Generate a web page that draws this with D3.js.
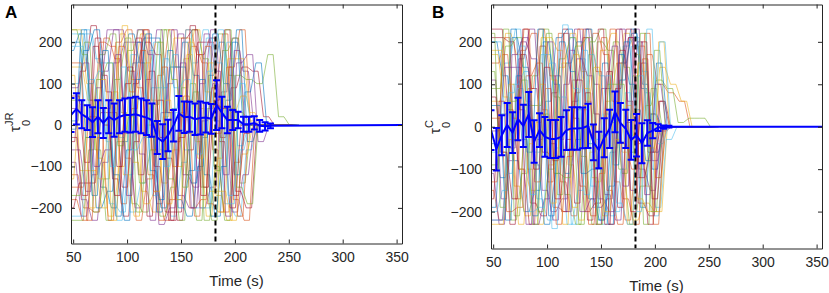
<!DOCTYPE html>
<html>
<head>
<meta charset="utf-8">
<script src="https://cdn.jsdelivr.net/npm/d3@7"></script>
<style>
  body { margin: 0; background: #fff; }
  svg { display: block; font-family: "Liberation Sans", Arial, sans-serif; }
</style>
</head>
<body>
<svg id="chart" width="829" height="293"></svg>
<script>
// ── data ─────────────────────────────────────────────────────
const xTicks = [50, 100, 150, 200, 250, 300, 350];
const yTicks = [-200, -100, 0, 100, 200];
const eventTime = 182;

// time grid of the individual runs (s), plus each run's own lag (s)
const lineT = [48, 58, 68, 78, 88, 98, 108, 118, 128, 138, 148, 158, 168, 178, 188, 198, 208, 218, 228, 238, 248];
const lagA = [0, 4, 7, 2, 9, 5, 1, 6, 3, 8, 2, 5, 7, 0, 4, 9, 1, 6, 3, 8, 5, 2, 7, 0, 4, 6, 9, 3];
const lagB = [3, 0, 6, 8, 1, 5, 9, 2, 7, 4, 0, 6, 3, 8, 1, 5, 9, 2, 4, 7, 0, 6, 3, 8, 5, 1, 9, 2];

const linesA = [
  [180, 220, 60, -150, -200, -40, 150, 210, 210, 30, -180, -220, -100, 120, 200, 40, 0, 0, 0, 0, 0],
  [-120, -200, -210, 40, 200, 230, 90, -120, -230, -180, 20, 190, 150, -60, -210, -90, 0, 0, 0, 0, 0],
  [230, 100, -80, -220, -100, 130, 220, 60, -140, -60, 160, 230, 80, -170, -230, 30, 10, 0, 0, 0, 0],
  [40, -180, -230, -90, 150, 200, 200, -30, -190, 100, 220, -20, -200, -150, 80, 210, 130, 0, 0, 0, 0],
  [-230, -60, 170, 220, 30, -190, -210, 50, 230, 140, -120, -230, 40, 220, 120, -140, 0, 0, 0, 0, 0],
  [100, 230, 160, -40, -230, -120, 60, 180, -60, -220, -90, 150, 230, 10, -190, -220, -60, 0, 0, 0, 0],
  [-40, 130, 240, 120, -130, -220, -40, 200, 170, -80, -230, -60, 170, 210, -30, 90, 140, 130, 20, 0, 0],
  [200, -30, -200, -160, 60, 220, 150, -110, -200, 40, 200, 120, -120, -220, 60, 230, -40, 0, 0, 0, 0],
  [-180, -230, 20, 210, 160, -80, -230, -130, 120, 230, 30, -200, -180, 90, 220, -180, -230, 0, 0, 0, 0],
  [140, 60, -130, 60, 220, 110, -160, -210, 20, 210, 210, -40, -220, -80, 160, 160, 30, 0, 0, 0, 0],
  [-90, -220, -120, 130, 230, -20, -200, 110, 230, 30, -170, -200, 100, 230, 20, -210, -120, 0, 0, 0, 0],
  [60, 200, -60, -230, -40, 180, 230, 10, -220, -150, 90, 230, 160, -100, -230, 120, 110, 100, 170, 20, 0],
  [220, 220, 150, 150, -30, -210, -140, 90, 90, 170, -60, -200, -200, 40, 200, -50, 0, 0, 0, 0, 0],
  [-200, -140, -140, 30, 30, -150, 100, 230, -100, -210, -210, 60, 200, 200, -40, -200, 0, 0, 0, 0, 0],
  [10, 180, 230, -20, -220, -60, 200, -30, -180, 140, 140, -140, -30, 220, 100, -120, 80, 150, 0, 0, 0],
  [-150, 20, 200, 190, -190, 40, 230, -160, -230, -40, 230, 170, -190, -210, 140, 230, 0, 0, 0, 0, 0],
  [120, -110, -110, -200, 80, -120, -220, 150, 200, -190, -100, 200, 40, -160, -160, -230, -70, 0, 0, 0, 0],
  [-60, -160, 90, 230, 230, 130, -70, -230, 30, 230, -120, -150, 220, 130, -220, 150, 170, -40, 0, 0, 0],
  [230, 170, -210, -130, 110, 210, -210, 0, 200, -130, -230, 100, -150, -230, 180, 210, 0, 0, 0, 0, 0],
  [-220, 100, 130, -190, -210, 170, 60, -170, 160, 90, 110, -110, 210, 150, -170, -60, 0, 0, 0, 0, 0],
  [70, -90, 210, 80, -100, 140, -120, 130, -30, -230, 210, 230, -150, 60, 230, -160, -200, 0, 0, 0, 0],
  [-10, 230, -170, 180, -120, -230, 110, 220, -210, 180, -200, -110, 110, -220, -100, 200, 0, 0, 0, 0, 0],
  [150, -230, -30, -230, 190, 80, 180, -60, 140, -100, 70, -220, 190, -20, 140, -220, 0, 0, 0, 0, 0],
  [-130, 50, -200, 110, -230, 240, -90, -190, -160, 60, -180, 170, -80, 150, -210, 30, 70, 0, 0, 0, 0],
  [90, 150, -100, -60, 170, -170, 230, 170, -240, -200, 150, -200, 10, 100, -120, 180, 0, 0, 0, 0, 0],
  [-170, -30, 110, 150, -50, 20, -140, -60, 230, 110, -150, 80, -230, -110, 230, -150, -190, 0, 0, 0, 0],
  [190, 110, 40, -100, 140, -60, -30, 200, -100, 30, 230, -70, 130, 230, -190, 100, 0, 0, 0, 0, 0],
  [-30, -170, 190, 0, -170, 100, 210, -220, 60, -230, -30, 240, -170, 50, 40, -170, -20, 0, 0, 0, 0]
];

const linesB = [
  [200, 120, -80, -200, -150, 60, 210, 230, 40, -170, -220, -60, 150, 220, 100, -60, 0, 0, 0, 0, 0],
  [-150, -220, -30, 180, 220, 40, -190, -200, 80, 230, 130, -150, -230, -20, 190, 30, 0, 0, 0, 0, 0],
  [60, 220, 170, -100, -230, -90, 140, 220, 130, -120, -210, 30, 220, 170, -140, -200, 0, 0, 0, 0, 0],
  [-220, -80, 160, 230, 30, -200, -170, 60, 230, 100, -160, -220, 10, 200, -60, 0, 0, 0, 0, 0, 0],
  [130, -60, -220, -110, 120, 230, 70, -160, -230, 0, 200, 180, -100, -230, -140, 90, 0, 0, 0, 0, 0],
  [-60, 150, 230, 60, -170, -220, 20, 210, 160, -140, -230, -50, 190, 210, 80, -190, -30, 0, 0, 0, 0],
  [210, 200, 40, -180, -210, 80, 230, 20, -200, -180, 90, 230, 60, -180, -210, 60, 0, 0, 0, 0, 0],
  [-190, 30, 210, 140, -90, -230, -110, 150, 200, -40, -220, -140, 110, 230, 90, -100, 0, 0, 0, 0, 0],
  [20, -200, -190, 90, 230, 120, -130, -210, 40, 220, 170, -130, -220, -40, 170, 100, 80, 60, 0, 0, 0],
  [170, 70, -140, -210, 10, 210, 180, -90, -220, -60, 180, 220, -60, -220, -180, -200, 0, 0, 0, 0, 0],
  [-110, -230, -50, 200, 160, -150, -220, 100, 230, 60, -190, -170, 150, 210, -100, -150, -10, 0, 0, 0, 0],
  [90, 190, 210, 20, -200, -100, 160, 210, -70, -230, -20, 200, 140, -120, 50, 110, 90, 10, 20, 20, 0],
  [-200, -150, 100, 130, -60, 170, -50, -230, -150, 170, 120, -210, -100, 190, 130, -210, 0, 0, 0, 0, 0],
  [230, 40, -100, -230, 190, -40, -200, 110, 210, 30, -230, 90, 230, -30, -230, 60, 0, 0, 0, 0, 0],
  [-40, -120, 230, -30, -210, 200, 100, -110, -30, 230, -100, -230, 170, 100, -190, 30, 0, 0, 0, 0, 0],
  [150, 210, -170, 120, 150, -130, 220, -10, -140, -210, 210, 60, -170, -230, 220, -120, 0, 0, 0, 0, 0],
  [-230, 100, -100, -150, 210, 110, -230, 170, 90, -130, 60, 150, -230, 150, -50, 140, 100, 60, 0, 0, 0],
  [110, -170, 170, 210, -230, -170, 120, -200, 160, 120, -170, -200, 230, -150, 150, -80, 0, 0, 0, 0, 0],
  [-90, 230, -210, 50, 50, 220, -160, 40, -230, 200, 230, 10, -110, 120, -230, 180, 0, 0, 0, 0, 0],
  [200, -110, 90, -200, -190, 150, 70, -230, 180, -190, 30, -200, 80, -200, 230, -40, 0, 0, 0, 0, 0],
  [-170, 60, -230, 170, 90, -60, -80, 220, -180, 80, -230, 130, -190, 210, -120, -60, 0, 0, 0, 0, 0],
  [50, -220, 120, -60, 230, -210, 200, 130, -110, -100, 150, -90, 200, 40, -80, 150, 0, 0, 0, 0, 0],
  [-130, 170, 20, 230, -130, 90, -230, -70, 230, -230, -110, 230, -40, -100, 160, -230, 0, 0, 0, 0, 0],
  [180, -30, -230, -40, 100, -180, 150, -190, 50, 140, -200, -30, 50, -170, -200, 200, 0, 0, 0, 0, 0],
  [-10, 140, 140, -230, -30, 200, -30, 180, -200, -170, 90, 190, -140, 230, -160, 100, 0, 0, 0, 0, 0],
  [220, -190, 60, 110, -230, 30, -110, -120, 190, 210, -230, 100, 100, -60, 220, -200, 0, 0, 0, 0, 0],
  [-220, 80, 190, -160, 170, -240, 240, 90, -160, -30, 120, -180, -230, 120, -10, 200, 0, 0, 0, 0, 0],
  [70, -60, -170, 230, -100, 140, -170, -30, 110, -220, 230, -230, 180, -200, 200, -170, 0, 0, 0, 0, 0]
];

// mean and error of panel A
const meanTA = [48, 53, 58, 63, 68, 73, 78, 83, 88, 93, 98, 103, 108, 113, 118, 123, 128, 133, 138, 143,
  148, 153, 158, 163, 168, 173, 178, 183, 188, 193, 198, 203, 208, 213, 218, 223, 228, 233, 355];
const meanA = [24, 39, 26, 18, 7, 20, 5, 20, 12, 20, 24, 24, 26, 22, 18, 12, -30, -40, -25, -2,
  28, 19, 20, 14, 17, 18, 15, 48, 30, 12, 12, 12, 2, 2, 5, -2, -3, -2, 0];
const errA = [41, 38, 34, 30, 36, 40, 36, 40, 40, 40, 40, 42, 42, 42, 42, 40, 40, 42, 38, 38,
  42, 38, 36, 38, 40, 36, 36, 60, 38, 32, 24, 20, 18, 18, 16, 14, 10, 6, 0];

// mean and error of panel B
const meanTB = [48, 53, 58, 63, 68, 73, 78, 83, 88, 93, 98, 103, 108, 113, 118, 123, 128, 133, 138, 143,
  148, 153, 158, 163, 168, 173, 178, 183, 188, 193, 198, 203, 208, 213, 355];
const meanB = [-8, -53, -20, 4, -14, 18, 2, 29, -35, -8, -24, -29, -29, -24, -8, -4, -4, -3, 2, -37,
  -55, -26, -5, 35, 9, -5, -31, -20, -39, -15, -9, -2, -1, 0, 0];
const errB = [47, 50, 47, 52, 48, 50, 50, 53, 50, 40, 47, 45, 45, 47, 47, 50, 50, 48, 52, 42,
  43, 46, 45, 48, 47, 45, 47, 50, 47, 30, 18, 8, 4, 2, 0];

const COLORS = ['#0072BD', '#D95319', '#EDB120', '#7E2F8E', '#77AC30', '#4DBEEE', '#A2142F'];
const AXIS_COLOR = '#262626';
const HOLD = 2.5;   // each sample is held +-2.5 s, then ramps to the next

const svg = d3.select('#chart');

function drawPanel(p) {
  const x = d3.scaleLinear().domain([48, 355]).range([p.left, p.right]);
  const y = d3.scaleLinear().domain(p.yDomain).range([p.bottom, p.top]);
  const g = svg.append('g');

  const clipId = 'clip-' + p.letter;
  svg.append('clipPath').attr('id', clipId)
    .append('rect')
      .attr('x', p.left).attr('y', p.top)
      .attr('width', p.right - p.left).attr('height', p.bottom - p.top);

  const plot = g.append('g').attr('clip-path', `url(#${clipId})`);

  // individual runs: sample-and-hold with short ramps
  const runLine = d3.line().x(d => x(d[0])).y(d => y(d[1]));
  const runPts = (vals, lag) => vals.flatMap((v, i) => {
    const t = lineT[i] + lag;
    const start = i === 0 ? lineT[0] - HOLD : t - HOLD;  // every run starts at the left edge
    return [[start, v], [t + HOLD, v]];
  });

  plot.selectAll('.run')
    .data(p.lines).enter().append('path')
      .attr('class', 'run')
      .attr('d', (vals, i) => runLine(runPts(vals, p.lag[i])))
      .attr('fill', 'none')
      .attr('stroke', (d, i) => COLORS[i % COLORS.length])
      .attr('stroke-width', 1)
      .attr('stroke-opacity', 0.58)
      .attr('stroke-linejoin', 'round');

  // event marker
  plot.append('line')
    .attr('x1', x(eventTime)).attr('x2', x(eventTime))
    .attr('y1', p.top).attr('y2', p.bottom)
    .attr('stroke', '#000')
    .attr('stroke-width', 2)
    .attr('stroke-dasharray', '5,3');

  // mean with error bars
  const pts = p.meanT.map((t, i) => ({ t, m: p.mean[i], e: p.err[i] }));
  const meanLine = d3.line().x(d => x(d.t)).y(d => y(d.m));
  plot.append('path')
    .attr('d', meanLine(pts))
    .attr('fill', 'none')
    .attr('stroke', '#0000FF')
    .attr('stroke-width', 2);

  const bars = plot.selectAll('.ebar')
    .data(pts.filter(d => d.e > 0)).enter().append('g')
      .attr('class', 'ebar')
      .attr('stroke', '#0000FF')
      .attr('stroke-width', 2);
  bars.append('line')
    .attr('x1', d => x(d.t)).attr('x2', d => x(d.t))
    .attr('y1', d => y(d.m - d.e)).attr('y2', d => y(d.m + d.e));
  bars.append('line')
    .attr('x1', d => x(d.t) - 3.5).attr('x2', d => x(d.t) + 3.5)
    .attr('y1', d => y(d.m + d.e)).attr('y2', d => y(d.m + d.e));
  bars.append('line')
    .attr('x1', d => x(d.t) - 3.5).attr('x2', d => x(d.t) + 3.5)
    .attr('y1', d => y(d.m - d.e)).attr('y2', d => y(d.m - d.e));

  // box axes, ticks pointing inwards
  const axes = [
    { ax: d3.axisBottom(x).tickValues(xTicks), tr: `translate(0,${p.bottom})`, lab: true },
    { ax: d3.axisTop(x).tickValues(xTicks).tickFormat(''), tr: `translate(0,${p.top})` },
    { ax: d3.axisLeft(y).tickValues(yTicks), tr: `translate(${p.left},0)`, lab: true },
    { ax: d3.axisRight(y).tickValues(yTicks).tickFormat(''), tr: `translate(${p.right},0)` }
  ];
  axes.forEach(a => {
    const ag = g.append('g')
      .attr('transform', a.tr)
      .call(a.ax.tickSizeInner(-4).tickSizeOuter(0).tickPadding(a.lab ? 9 : 0));
    ag.select('.domain').attr('stroke', AXIS_COLOR).attr('stroke-width', 1);
    ag.selectAll('.tick line').attr('stroke', AXIS_COLOR);
    ag.selectAll('.tick text')
      .attr('fill', AXIS_COLOR)
      .attr('font-size', 14)
      .attr('font-family', '"Liberation Sans", Arial, sans-serif');
  });

  // x label
  g.append('text')
    .attr('x', (p.left + p.right) / 2)
    .attr('y', p.bottom + 42)
    .attr('text-anchor', 'middle')
    .attr('fill', AXIS_COLOR)
    .attr('font-size', 15)
    .text('Time (s)');

  // y label: tau_0^{sup}
  const yl = g.append('g')
    .attr('transform', `translate(${p.labelX},${p.labelY}) rotate(-90)`)
    .attr('fill', AXIS_COLOR);
  yl.append('text').attr('x', 0).attr('y', 0).attr('font-size', 15).text('τ');
  yl.append('text').attr('x', 6).attr('y', 10).attr('font-size', 11).text('0');
  yl.append('text').attr('x', 6).attr('y', -7).attr('font-size', 11).text(p.sup);

  // panel letter
  g.append('text')
    .attr('x', p.letterX).attr('y', 18)
    .attr('font-size', 17)
    .attr('font-weight', 'bold')
    .attr('fill', '#000')
    .text(p.letter);
}

drawPanel({
  letter: 'A', letterX: 5, sup: 'JR',
  left: 71, right: 402, top: 4.5, bottom: 243.5, yDomain: [-286, 291],
  labelX: 20, labelY: 132,
  lines: linesA, lag: lagA, meanT: meanTA, mean: meanA, err: errA
});

drawPanel({
  letter: 'B', letterX: 432, sup: 'C',
  left: 491, right: 822, top: 4.5, bottom: 248.5, yDomain: [-287, 288],
  labelX: 440, labelY: 134,
  lines: linesB, lag: lagB, meanT: meanTB, mean: meanB, err: errB
});
</script>
</body>
</html>
